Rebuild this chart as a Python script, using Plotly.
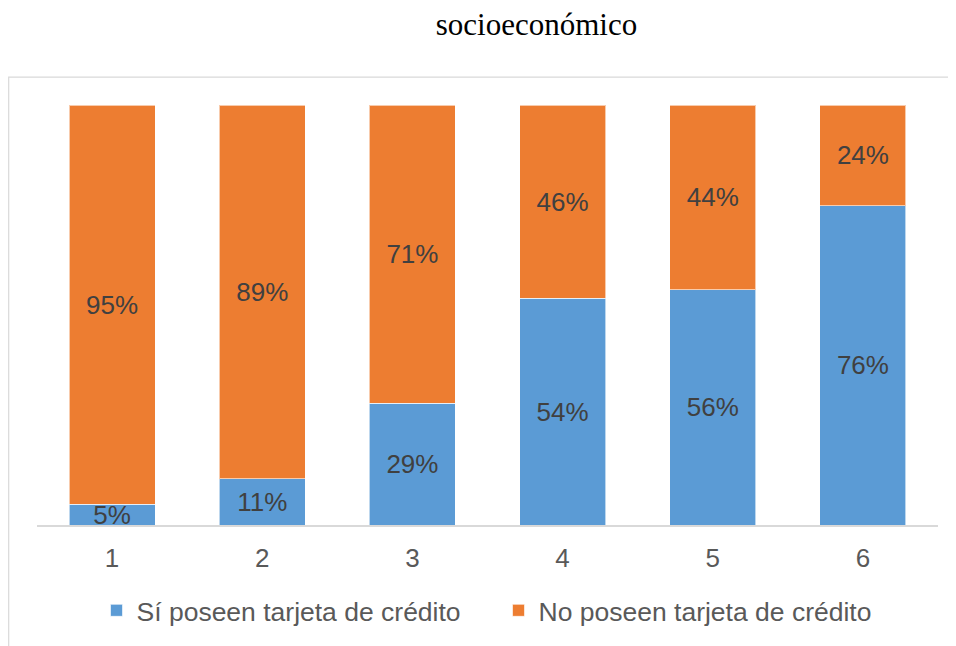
import plotly.graph_objects as go

categories = ["1", "2", "3", "4", "5", "6"]
si_posee = [5, 11, 29, 54, 56, 76]
no_posee = [95, 89, 71, 46, 44, 24]
series_names = ["Sí poseen tarjeta de crédito", "No poseen tarjeta de crédito"]
title_text = "socioeconómico"

BLUE = "#5B9BD5"
ORANGE = "#ED7D31"
SANS = "Liberation Sans, Arial, sans-serif"
SERIF = "Liberation Serif, Times New Roman, serif"

OFF = 8  # page body margin
W, H = 956 - OFF, 646 - OFF  # figure size so the page does not scroll
L, R, T, B = 37 - OFF, 938 - OFF, 105 - OFF, 527 - OFF

fig = go.Figure()
for name, vals, col in [(series_names[0], si_posee, BLUE), (series_names[1], no_posee, ORANGE)]:
    fig.add_trace(go.Bar(
        x=categories, y=vals, name=name,
        marker=dict(color=col, line=dict(color="rgba(255,255,255,0.6)", width=1)),
        text=[f"{v}%" for v in vals],
        textposition="inside", insidetextanchor="middle",
        insidetextfont=dict(family=SANS, size=26, color="#404040"),
        hoverinfo="skip",
    ))

fig.update_layout(
    barmode="stack", bargap=0.427,
    width=W, height=H,
    margin=dict(l=L, r=W - R, t=T, b=H - B, pad=0),
    paper_bgcolor="white", plot_bgcolor="white",
    uniformtext=dict(minsize=26, mode="show"),
    showlegend=True,
    legend=dict(orientation="h", x=0.5 + 11 / (R - L), xanchor="center",
                y=(B - (613 - OFF)) / (B - T), yanchor="middle",
                font=dict(family=SANS, size=26.5, color="#595959"),
                entrywidth=357, entrywidthmode="pixels",
                itemclick=False, traceorder="normal"),
    title=dict(text=title_text, x=(536.5 - OFF) / W, xanchor="center", xref="container",
               y=1 - (24 - OFF) / H, yanchor="middle", yref="container",
               font=dict(family=SERIF, size=31, color="black")),
    xaxis=dict(showline=True, linecolor="#D9D9D9", linewidth=1.5, ticks="",
               tickfont=dict(family=SANS, size=26, color="#595959"),
               ticklabelstandoff=9, showgrid=False, zeroline=False,
               fixedrange=True),
    yaxis=dict(range=[0, 100], visible=False, showgrid=False, zeroline=False,
               fixedrange=True),
)

# chart area border (right and bottom edges lie outside the picture)
fig.add_shape(type="rect", xref="paper", yref="paper",
              x0=(0.7 - L) / (R - L), x1=(W + 20 - L) / (R - L),
              y0=(B - (H + 20)) / (B - T), y1=(B - (77 - OFF)) / (B - T),
              line=dict(color="#D9D9D9", width=1.2), fillcolor="rgba(0,0,0,0)",
              layer="below")

fig.write_html("out.html")
